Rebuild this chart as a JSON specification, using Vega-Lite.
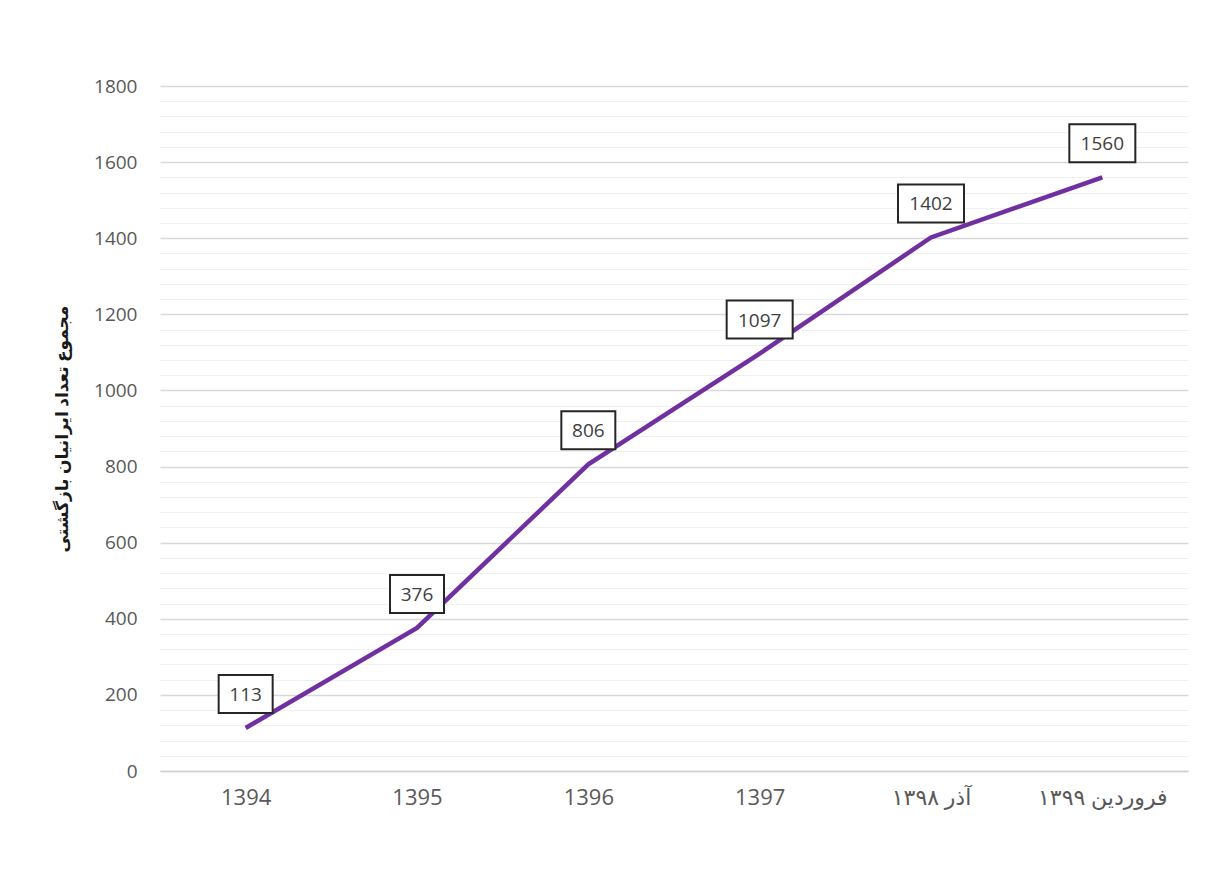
{
  "$schema": "https://vega.github.io/schema/vega-lite/v6.json",
  "autosize": {"type": "none"},
  "width": 1028,
  "height": 685,
  "padding": {"left": 160, "top": 86, "right": 20, "bottom": 115},
  "background": "white",
  "config": {
    "view": {"stroke": null},
    "font": "Open Sans, DejaVu Sans"
  },
  "data": {
    "values": [
      {"period": "1394", "count": 113},
      {"period": "1395", "count": 376},
      {"period": "1396", "count": 806},
      {"period": "1397", "count": 1097},
      {"period": "آذر ۱۳۹۸", "count": 1402},
      {"period": "فروردین ۱۳۹۹", "count": 1560}
    ]
  },
  "encoding": {
    "x": {
      "field": "period",
      "type": "nominal",
      "sort": null,
      "scale": {"paddingInner": 0, "paddingOuter": 0},
      "axis": {
        "title": null,
        "labelAngle": 0,
        "labelFontSize": 22,
        "labelColor": "#595959",
        "labelPadding": 16,
        "ticks": false,
        "domain": true,
        "domainColor": "#d0d0d0",
        "domainWidth": 1.5,
        "grid": false
      }
    },
    "y": {
      "field": "count",
      "type": "quantitative",
      "scale": {"domain": [0, 1800], "nice": false},
      "axis": {
        "title": "مجموع تعداد ایرانیان بازگشتی",
        "titleFontSize": 17,
        "titleFontWeight": "bold",
        "titleColor": "#1a1a1a",
        "titlePadding": 22,
        "format": "d",
        "values": [0,40,80,120,160,200,240,280,320,360,400,440,480,520,560,600,640,680,720,760,800,840,880,920,960,1000,1040,1080,1120,1160,1200,1240,1280,1320,1360,1400,1440,1480,1520,1560,1600,1640,1680,1720,1760,1800],
        "labelExpr": "datum.value % 200 === 0 ? datum.label : ''",
        "labelFontSize": 19,
        "labelColor": "#595959",
        "labelPadding": 23,
        "ticks": false,
        "domain": false,
        "grid": true,
        "gridColor": {"condition": {"test": "datum.value % 200 === 0", "value": "#d9d9d9"}, "value": "#f0f0f0"},
        "gridWidth": {"condition": {"test": "datum.value % 200 === 0", "value": 1.5}, "value": 1}
      }
    }
  },
  "layer": [
    {
      "mark": {"type": "line", "color": "#7030A0", "strokeWidth": 4.5}
    },
    {
      "mark": {"type": "point", "filled": true, "fill": "white", "stroke": "#262626", "strokeWidth": 2, "opacity": 1, "yOffset": -34},
      "encoding": {
        "size": {"value": 4356},
        "shape": {
          "condition": {"test": "datum.count >= 1000", "value": "M-1,-0.576H1V0.576H-1Z"},
          "value": "M-0.818,-0.576H0.818V0.576H-0.818Z"
        }
      }
    },
    {
      "mark": {"type": "text", "fontSize": 19, "color": "#404040", "yOffset": -33, "baseline": "middle", "align": "center"},
      "encoding": {"text": {"field": "count", "type": "quantitative", "format": "d"}}
    }
  ]
}
